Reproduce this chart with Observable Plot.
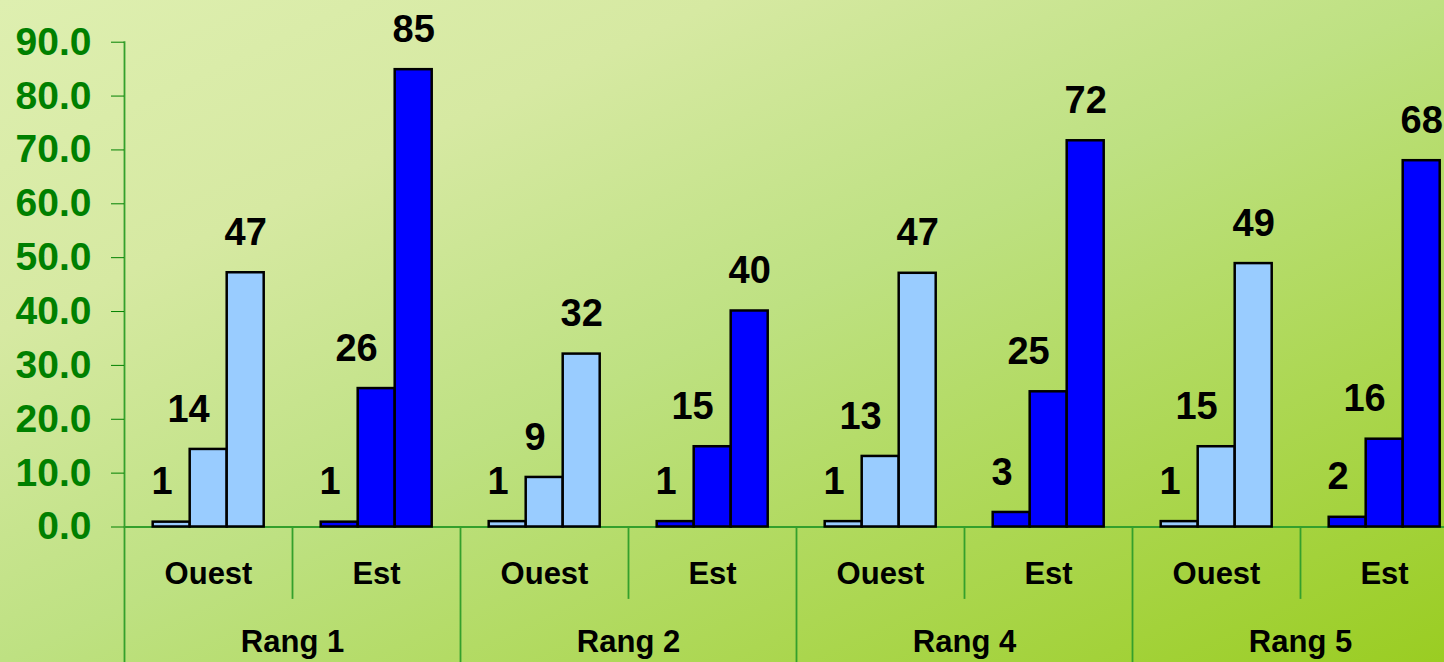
<!DOCTYPE html>
<html><head><meta charset="utf-8">
<script src="https://cdn.jsdelivr.net/npm/d3@7"></script>
<script src="https://cdn.jsdelivr.net/npm/@observablehq/plot@0.6"></script>
<style>
html,body{margin:0;padding:0;width:1444px;height:662px;overflow:hidden;}
body{background:linear-gradient(to bottom right,#DEEFB0 0%,#D6E9A2 25%,#BEE182 50%,#9ACD22 100%);}
#chart{width:1444px;height:662px;overflow:hidden;}
</style></head><body><div id="chart"></div>
<script>
// Categories
const rangs = ["Rang 1", "Rang 2", "Rang 4", "Rang 5"];
const sides = ["Ouest", "Est"];
const seriesIdx = [0, 1, 2];
// Series values, ordered Rang 1 Ouest, Rang 1 Est, Rang 2 Ouest, ... Rang 5 Est
const serie1 = [0.9, 0.9, 1.0, 1.0, 1.0, 2.7, 1.0, 1.8];
const serie2 = [14.4, 25.7, 9.2, 14.9, 13.1, 25.1, 14.9, 16.3];
const serie3 = [47.2, 84.9, 32.1, 40.1, 47.1, 71.7, 48.9, 68.0];
// Y tick labels
const yTicks = [0, 10, 20, 30, 40, 50, 60, 70, 80, 90];
const sideColors = ["#99CCFF", "#0000FF"];

const keys = rangs.flatMap(r => sides.map(s => r + "|" + s));
const seriesList = [serie1, serie2, serie3];
const data = keys.flatMap((k, j) => seriesIdx.map(i => ({
  key: k, side: k.split("|")[1], i, value: seriesList[i][j]
})));

const axisGreen = "#34A02C";
const fmt = d3.format(".0f");
const mT = 41.7, mB = 135.5, H = 662;
const plotH = H - mT - mB;

const chart = Plot.plot({
  width: 1468, height: H,
  marginLeft: 123.3, marginRight: 0, marginTop: mT, marginBottom: mB,
  style: {background: "transparent", maxWidth: "none", overflow: "visible",
          fontFamily: "'Liberation Sans', Arial, sans-serif", fontWeight: "bold", color: "black"},
  fx: {domain: keys, padding: 0, axis: null, label: null},
  x: {domain: seriesIdx, paddingInner: 0, paddingOuter: 0.72, axis: null},
  y: {domain: [0, 90]},
  color: {domain: sides, range: sideColors},
  marks: [
    Plot.ruleY([0], {stroke: axisGreen, strokeWidth: 1.8}),
    ...keys.map((k, j) => Plot.frame({
      anchor: "left", fx: [k], stroke: axisGreen, strokeWidth: 1.8,
      insetTop: j === 0 ? 0 : plotH,
      insetBottom: k.endsWith("Ouest") ? -mB : -71
    })),
    Plot.axisY({ticks: yTicks, tickFormat: d3.format(".1f"), tickSize: 13, tickPadding: 20,
      fontSize: 39, color: "#008000", label: null}),
    Plot.barY(data, {fx: "key", x: "i", y: "value", fill: "side", stroke: "black", strokeWidth: 2.5}),
    Plot.text(data.filter(d => d.i < 2), {fx: "key", x: "i", y: "value", text: d => fmt(d.value),
      textAnchor: "end", dx: 1, dy: -40, fontSize: 38, fill: "black"}),
    Plot.text(data.filter(d => d.i === 2), {fx: "key", x: "i", y: "value", text: d => fmt(d.value),
      textAnchor: "middle", dy: -40, fontSize: 38, fill: "black"}),
    Plot.text(keys, {fx: d => d, text: d => d.split("|")[1], frameAnchor: "bottom",
      textAnchor: "middle", lineAnchor: "middle", dy: 47.5, fontSize: 31, fill: "black"}),
    Plot.text(rangs, {fx: r => r + "|Ouest", text: r => r, frameAnchor: "bottom-right",
      textAnchor: "middle", lineAnchor: "middle", dy: 115, fontSize: 31, fill: "black"})
  ]
});
document.getElementById("chart").appendChild(chart);
</script></body></html>
